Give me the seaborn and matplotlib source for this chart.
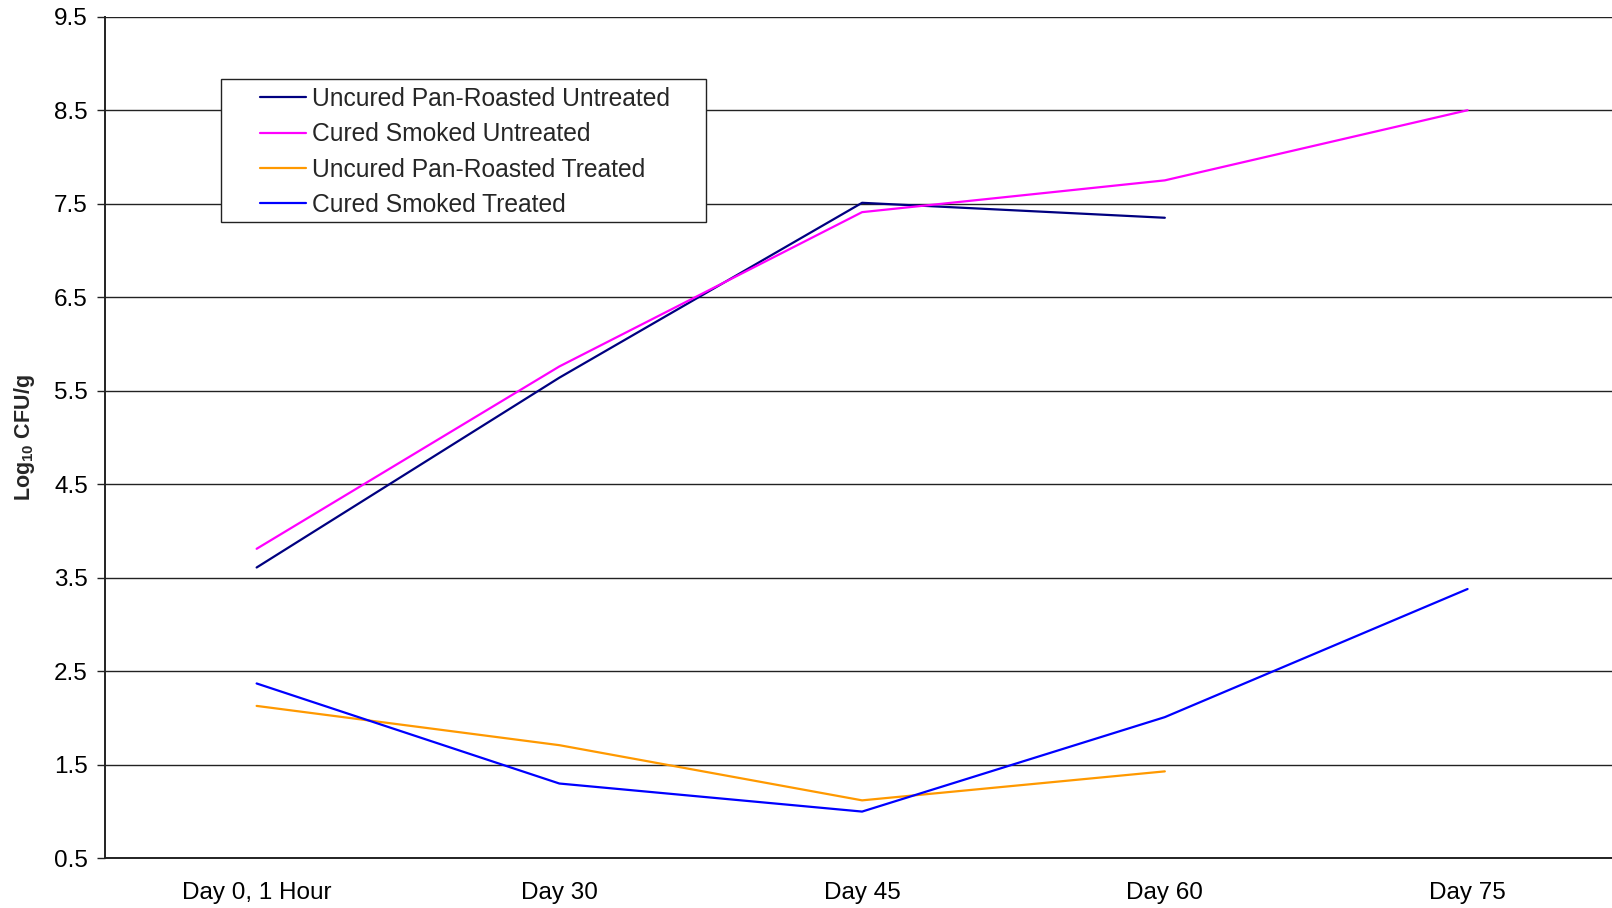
import matplotlib
matplotlib.use("Agg")
import matplotlib.pyplot as plt
from matplotlib.patches import Rectangle
from matplotlib.lines import Line2D
import numpy as np
import pandas as pd
import seaborn as sns

# Sampling days (categorical x axis)
days = ["Day 0, 1 Hour", "Day 30", "Day 45", "Day 60", "Day 75"]

# Log10 CFU/g per treatment group (None = not sampled)
uncured_pan_roasted_untreated = [3.61, 5.64, 7.51, 7.35, None]
cured_smoked_untreated = [3.81, 5.76, 7.41, 7.75, 8.50]
uncured_pan_roasted_treated = [2.13, 1.71, 1.12, 1.43, None]
cured_smoked_treated = [2.37, 1.30, 1.00, 2.01, 3.38]

series_names = [
    "Uncured Pan-Roasted Untreated",
    "Cured Smoked Untreated",
    "Uncured Pan-Roasted Treated",
    "Cured Smoked Treated",
]
series_values = [
    uncured_pan_roasted_untreated,
    cured_smoked_untreated,
    uncured_pan_roasted_treated,
    cured_smoked_treated,
]
colors = ["#000080", "#FF00FF", "#FF9900", "#0000FF"]

y_ticks = [0.5, 1.5, 2.5, 3.5, 4.5, 5.5, 6.5, 7.5, 8.5, 9.5]

rows = []
for name, vals in zip(series_names, series_values):
    for i, v in enumerate(vals):
        if v is not None:
            rows.append({"series": name, "pos": i, "day": days[i], "value": v})
df = pd.DataFrame(rows)

sns.set_style("white")
plt.rcParams["font.family"] = ["Liberation Sans", "DejaVu Sans"]
plt.rcParams["mathtext.fontset"] = "custom"
plt.rcParams["mathtext.rm"] = "Liberation Sans"
plt.rcParams["mathtext.bf"] = "Liberation Sans:bold"

fig = plt.figure(figsize=(16.12, 9.08), dpi=100)
ax = fig.add_axes([0.0653, 0.0547, 0.939, 0.9269])

palette = dict(zip(series_names, colors))
sns.lineplot(
    data=df, x="pos", y="value", hue="series", hue_order=series_names,
    palette=palette, estimator=None, sort=False, linewidth=1.6, ax=ax,
    legend=False,
)

# Axes limits and ticks
ax.set_xlim(-0.5, len(days) - 0.5)
ax.set_ylim(y_ticks[0], y_ticks[-1])
ax.set_yticks(y_ticks)
ax.set_yticklabels([f"{t:.1f}" for t in y_ticks])
ax.set_xticks(range(len(days)))
ax.set_xticklabels(days)
ax.set_xticks(np.arange(-0.5, len(days), 1.0), minor=True)

ax.tick_params(axis="x", which="major", length=0, pad=16.7, labelsize=17.5,
               colors="black")
ax.tick_params(axis="x", which="minor", length=5.5, width=1.0,
               direction="out", color="#222222")
ax.tick_params(axis="y", which="major", length=5.5, width=1.0,
               direction="out", pad=7, labelsize=17.5, color="#222222",
               labelcolor="black", left=True)

ax.set_xlabel("")
ax.set_ylabel(r"Log$_{\mathbf{10}}$ CFU/g", fontsize=15.5, fontweight="bold")
ax.yaxis.set_label_coords(-0.0454, 0.5)

# Horizontal gridlines
ax.yaxis.grid(True, color="#222222", linewidth=1.0)
ax.xaxis.grid(False)
ax.set_axisbelow(True)

for side in ["top", "right"]:
    ax.spines[side].set_visible(False)
for side in ["left", "bottom"]:
    ax.spines[side].set_color("#222222")
    ax.spines[side].set_linewidth(1.4)

# Legend with a square frame
handles = [Line2D([], [], color=c, linewidth=1.6) for c in colors]
leg = ax.legend(
    handles, series_names, loc="upper left",
    bbox_to_anchor=(0.1022, 0.9165), borderaxespad=0, borderpad=0,
    frameon=False, fontsize=17.7, handlelength=1.87, handletextpad=0.24,
    labelspacing=0.46,
)
ax.add_patch(Rectangle((0.0764, 0.7565), 0.3202, 0.1695,
                       transform=ax.transAxes, facecolor="white",
                       edgecolor="#222222", linewidth=1.0, zorder=4))
leg.set_zorder(5)

fig.savefig("out.png", dpi=100, facecolor="white")
